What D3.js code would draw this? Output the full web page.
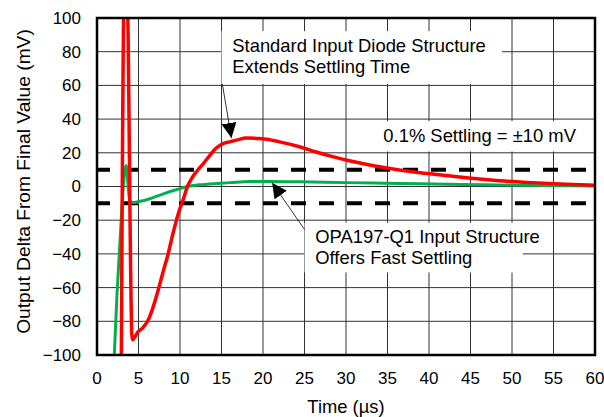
<!DOCTYPE html>
<html>
<head>
<meta charset="utf-8">
<script src="https://cdn.jsdelivr.net/npm/d3@7"></script>
<style>
  html, body { margin: 0; padding: 0; background: #fff; }
  svg { display: block; font-family: "Liberation Sans", Arial, sans-serif; }
</style>
</head>
<body>
<svg id="chart" width="604" height="417"></svg>
<script>
// ---- Data ----
const xTicks = [0, 5, 10, 15, 20, 25, 30, 35, 40, 45, 50, 55, 60];
const yTicks = [-100, -80, -60, -40, -20, 0, 20, 40, 60, 80, 100];
const settleBand = [10, -10];

// Standard input diode structure (red)
const redT = [2.9, 3.3, 3.6, 4.2, 4.3, 4.6, 4.9, 5.5, 6.2, 6.8, 7.4, 8.0, 8.6, 9.0, 9.8, 10.4, 10.9, 11.5, 12.1, 12.8, 13.6, 14.3, 15.2, 16.0, 16.8, 18.0, 19.5, 20.4, 22.0, 24.4, 26.4, 28.4, 30.4, 32.4, 34.4, 36.4, 38.4, 40.4, 44.5, 48.5, 52.4, 56.5, 60];
const redV = [-130, 120, 120, -88, -91, -89, -86.5, -84, -79, -71, -61, -50, -39.5, -31, -16, -7.5, 0, 5.5, 9.5, 13.5, 18.5, 22.5, 25.5, 26.5, 27.5, 28.8, 28.5, 28, 26.5, 23.6, 20.5, 17.7, 15.3, 13.2, 11.4, 9.8, 8.5, 7.4, 5.2, 3.4, 2.3, 1.4, 0.8];

// OPA197-Q1 input structure (green)
const greenT = [1.95, 2.4, 2.8, 3.2, 3.5, 3.75, 3.95, 4.3, 5.0, 5.8, 6.5, 7.5, 8.5, 9.5, 10.9, 12.4, 14.0, 16.0, 18.4, 21.0, 24.4, 30.0, 36.4, 42.0, 48.5, 54.0, 60];
const greenV = [-115, -65, -30, 2, 12.5, 0, -8.5, -9.5, -9, -8.2, -7, -5.3, -3.5, -2, 0, 1, 1.7, 2.3, 3, 3, 2.8, 2.3, 1.8, 1.3, 0.9, 0.6, 0.3];

// ---- Layout ----
const svg = d3.select("#chart");
const L = 97, R = 595, T = 18, B = 355;
const x = d3.scaleLinear().domain([0, 60]).range([L, R]);
const y = d3.scaleLinear().domain([-100, 100]).range([B, T]);
const tickSize = 17, textSize = 18.4;

// clip
const defs = svg.append("defs");
defs.append("clipPath").attr("id", "plotclip")
  .append("rect").attr("x", L).attr("y", T).attr("width", R - L).attr("height", B - T);

// grid
const grid = svg.append("g");
grid.selectAll("line.v").data(xTicks.slice(1, -1)).join("line")
  .attr("x1", d => x(d)).attr("x2", d => x(d)).attr("y1", T).attr("y2", B)
  .attr("stroke", "#333").attr("stroke-width", 1);
grid.selectAll("line.h").data(yTicks.slice(1, -1)).join("line")
  .attr("y1", d => y(d)).attr("y2", d => y(d)).attr("x1", L).attr("x2", R)
  .attr("stroke", "#333").attr("stroke-width", 1);

// annotation boxes (white, covering grid)
const boxes = [
  { x0: 15, x1: 48.8, y0: 92.2, y1: 60.8 },
  { x0: 25, x1: 51.3, y0: -21.5, y1: -51 },
  { x0: 33.8, x1: 59.6, y0: 38.8, y1: 20.8 }
];
svg.append("g").selectAll("rect").data(boxes).join("rect")
  .attr("x", d => x(d.x0)).attr("y", d => y(d.y0))
  .attr("width", d => x(d.x1) - x(d.x0)).attr("height", d => y(d.y1) - y(d.y0))
  .attr("fill", "#fff");

// settling band dashed lines
svg.append("g").selectAll("line").data(settleBand).join("line")
  .attr("x1", L).attr("x2", R).attr("y1", d => y(d)).attr("y2", d => y(d))
  .attr("stroke", "#000").attr("stroke-width", 4).attr("stroke-dasharray", "15,13")
  .attr("stroke-dashoffset", 2);

// curves
const line = d3.line().x(d => x(d[0])).y(d => y(d[1])).curve(d3.curveMonotoneX);
const plot = svg.append("g").attr("clip-path", "url(#plotclip)");
plot.append("path").datum(greenT.map((t, i) => [t, greenV[i]]))
  .attr("d", line).attr("fill", "none").attr("stroke", "#00b050").attr("stroke-width", 3)
  .attr("stroke-linejoin", "round");
plot.append("path").datum(redT.map((t, i) => [t, redV[i]]))
  .attr("d", line).attr("fill", "none").attr("stroke", "#ff0000").attr("stroke-width", 3.5)
  .attr("stroke-linejoin", "round");

// border
svg.append("rect").attr("x", L).attr("y", T).attr("width", R - L).attr("height", B - T)
  .attr("fill", "none").attr("stroke", "#000").attr("stroke-width", 2.5);

// axis tick labels
svg.append("g").selectAll("text").data(yTicks).join("text")
  .attr("x", L - 16).attr("y", d => y(d)).attr("dy", "0.35em")
  .attr("text-anchor", "end").attr("font-size", tickSize).attr("fill", "#000")
  .text(d => d < 0 ? "\u2212" + Math.abs(d) : d);
svg.append("g").selectAll("text").data(xTicks).join("text")
  .attr("x", d => x(d)).attr("y", B + 29)
  .attr("text-anchor", "middle").attr("font-size", tickSize).attr("fill", "#000")
  .text(d => d);

// axis titles
svg.append("text").attr("x", (L + R) / 2).attr("y", 413).attr("text-anchor", "middle")
  .attr("font-size", textSize).text("Time (\u00b5s)");
svg.append("text").attr("transform", `translate(30,${(T + B) / 2 - 5}) rotate(-90)`)
  .attr("text-anchor", "middle").attr("font-size", 19.2)
  .text("Output Delta From Final Value (mV)");

// annotation texts
const notes = [
  { t: 16.3, v: 80, lines: ["Standard Input Diode Structure", "Extends Settling Time"] },
  { t: 26.3, v: -33.3, lines: ["OPA197-Q1 Input Structure", "Offers Fast Settling"] },
  { t: 34.5, v: 26.4, lines: ["0.1% Settling = \u00b110 mV"] }
];
notes.forEach(n => {
  const txt = svg.append("text").attr("x", x(n.t)).attr("y", y(n.v))
    .attr("font-size", textSize).attr("fill", "#000");
  n.lines.forEach((l, i) => txt.append("tspan").attr("x", x(n.t)).attr("dy", i === 0 ? 0 : 21.7).text(l));
});

// arrows
const arrows = [
  { t0: 15.1, v0: 60.8, t1: 16.2, v1: 28.8 },
  { t0: 25, v0: -25.5, t1: 21.1, v1: 2.2 }
];
defs.append("marker").attr("id", "ah").attr("viewBox", "0 0 10 10")
  .attr("refX", 10).attr("refY", 5).attr("markerWidth", 15).attr("markerHeight", 15)
  .attr("markerUnits", "userSpaceOnUse").attr("orient", "auto")
  .append("path").attr("d", "M0,0 L10,5 L0,10 Z").attr("fill", "#000");
svg.append("g").selectAll("line").data(arrows).join("line")
  .attr("x1", d => x(d.t0)).attr("y1", d => y(d.v0))
  .attr("x2", d => x(d.t1)).attr("y2", d => y(d.v1))
  .attr("stroke", "#000").attr("stroke-width", 0.8).attr("marker-end", "url(#ah)");
</script>
</body>
</html>
